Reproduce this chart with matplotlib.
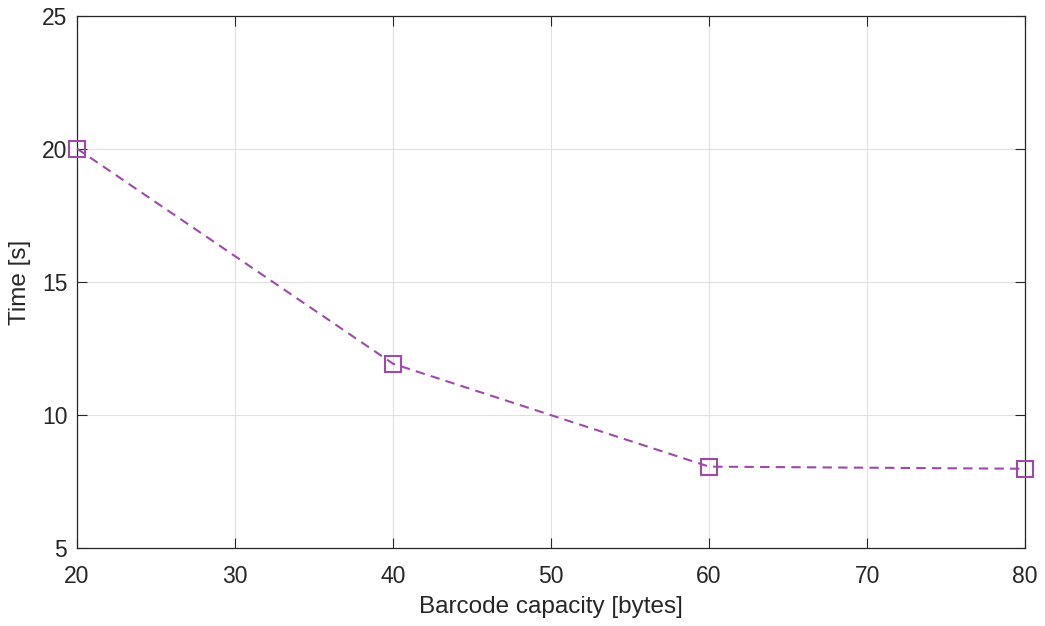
import matplotlib
matplotlib.use("Agg")
import matplotlib.pyplot as plt

capacity = [20, 40, 60, 80]
time_s = [20.02, 11.93, 8.06, 7.98]
xticks = [20, 30, 40, 50, 60, 70, 80]
yticks = [5, 10, 15, 20, 25]

plt.rcParams['font.family'] = ['Liberation Sans', 'DejaVu Sans']

fig = plt.figure(figsize=(10.45, 6.26), dpi=100)
ax = fig.add_axes([0.0737, 0.1246, 0.9073, 0.8495])
color = '#9E4AAA'
ax.plot(capacity, time_s, linestyle=(0, (4.5, 3)), color=color, linewidth=1.5,
        marker='s', markersize=11, markerfacecolor='none', markeredgecolor=color,
        markeredgewidth=1.5, clip_on=False, zorder=5)
ax.set_xlim(20, 80)
ax.set_ylim(5, 25)
ax.set_xticks(xticks)
ax.set_yticks(yticks)
ax.grid(True, color='#e0e0e0', linewidth=0.8)
ax.set_axisbelow(True)
ax.tick_params(direction='in', top=True, right=True, labelsize=16.5, colors='#262626',
               length=7, width=0.8)
ax.tick_params(axis='x', pad=12)
ax.tick_params(axis='y', pad=7)
for s in ax.spines.values():
    s.set_color('#262626')
    s.set_linewidth(0.9)
ax.set_xlabel('Barcode capacity [bytes]', fontsize=17.5, color='#262626', labelpad=6)
ax.set_ylabel('Time [s]', fontsize=17.5, color='#262626', labelpad=8)
fig.savefig('out.png', dpi=100)
